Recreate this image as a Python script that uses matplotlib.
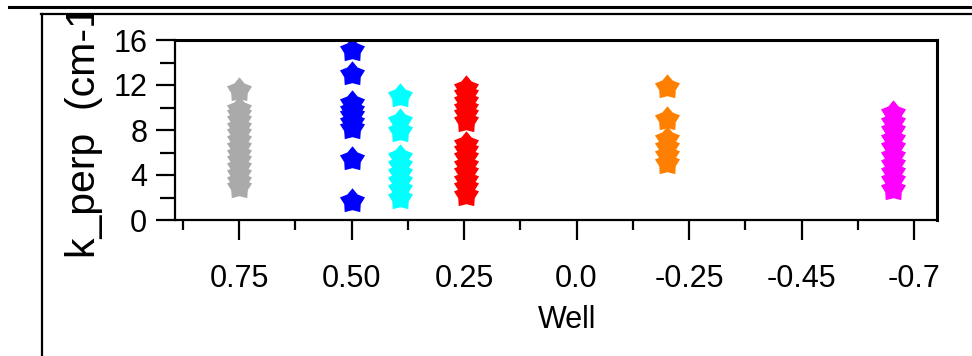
import numpy as np
import matplotlib
matplotlib.use("Agg")
import matplotlib.pyplot as plt
from matplotlib.lines import Line2D
from matplotlib.transforms import Bbox, TransformedBbox
from matplotlib.ticker import FixedLocator

plt.rcParams['font.family'] = ['Liberation Sans', 'DejaVu Sans']

# ---- data ----
tick_labels = ["0.75", "0.50", "0.25", "0.0", "-0.25", "-0.45", "-0.7"]
well_pos = [0.0, 1.0, 1.43, 2.02, 3.80, 5.81]
colors = ["#aaaaaa", "#0000ff", "#00ffff", "#ff0000", "#ff8000", "#ff00ff"]
gray_k = [11.6, 9.9, 9.4, 8.9, 8.3, 7.7, 7.1, 6.5, 5.9, 5.3, 4.7, 4.1, 3.5, 2.9]
blue_k = [15.1, 13.0, 10.4, 9.8, 9.3, 8.7, 8.2, 5.4, 1.7]
cyan_k = [11.0, 8.8, 7.9, 5.6, 4.9, 4.2, 3.5, 2.8, 2.0]
red_k = [11.7, 11.2, 10.6, 10.0, 9.4, 8.8, 6.8, 6.2, 5.6, 4.9, 4.3, 3.6, 2.9, 2.2]
orange_k = [11.8, 9.0, 7.2, 6.5, 5.8, 5.1]
magenta_k = [9.5, 8.7, 8.0, 7.2, 6.5, 5.7, 5.0, 4.3, 3.6, 2.8]
series = [gray_k, blue_k, cyan_k, red_k, orange_k, magenta_k]

W, H = 972, 356
fig = plt.figure(figsize=(W / 100, H / 100), dpi=100)

def fx(px):
    return px / W

def fy(py):
    return (H - py) / H

# chunky star marker
ang = np.pi / 2 + np.arange(10) * np.pi / 5
rad = np.where(np.arange(10) % 2 == 0, 1.0, 0.66)
star = list(zip(rad * np.cos(ang), rad * np.sin(ang)))

ax = fig.add_axes([fx(175), fy(220), fx(937) - fx(175), fy(40) - fy(220)])
for xp, vals, c in zip(well_pos, series, colors):
    ax.plot([xp] * len(vals), vals, linestyle='none', marker=star,
            markersize=19, color=c, markeredgewidth=0)

ax.set_xlim(-0.569, 6.204)
ax.set_ylim(0, 16)
ax.set_xticks(range(len(tick_labels)))
ax.set_xticklabels(tick_labels)
ax.xaxis.set_minor_locator(FixedLocator(np.arange(-0.5, 6.0, 1.0)))
ax.set_yticks([0, 4, 8, 12, 16])
ax.yaxis.set_minor_locator(FixedLocator([2, 6, 10, 14]))
ax.tick_params(axis='x', which='major', direction='out', length=14.4, width=1.6,
               labelsize=22, pad=17)
ax.tick_params(axis='x', which='minor', direction='out', length=7.2, width=1.6)
ax.tick_params(axis='y', which='major', direction='out', length=14, width=1.6,
               labelsize=22, pad=6)
ax.tick_params(axis='y', which='minor', direction='out', length=11, width=1.6)
ax.spines['left'].set_linewidth(1.6)
ax.spines['bottom'].set_linewidth(1.6)
ax.spines['top'].set_linewidth(2.2)
ax.spines['right'].set_linewidth(2.2)

fig.text(fx(567), fy(320), "Well", ha='center', va='center', fontsize=22)

yl = fig.text(fx(95), fy(258), "k_perp  (cm-1)", rotation=90, rotation_mode='anchor',
              ha='left', va='baseline', fontsize=29.5)
yl.set_clip_box(TransformedBbox(Bbox([[0, 0], [1, fy(15)]]), fig.transFigure))
yl.set_clip_on(True)

# window frame lines
fig.add_artist(Line2D([fx(9), 1], [fy(7), fy(7)], color='black', lw=2.2,
                      transform=fig.transFigure))
fig.add_artist(Line2D([fx(41), 1], [fy(14), fy(14)], color='black', lw=1.6,
                      transform=fig.transFigure))
fig.add_artist(Line2D([fx(42), fx(42)], [fy(14), 0], color='black', lw=1.6,
                      transform=fig.transFigure))

fig.savefig("out.png", dpi=100)
